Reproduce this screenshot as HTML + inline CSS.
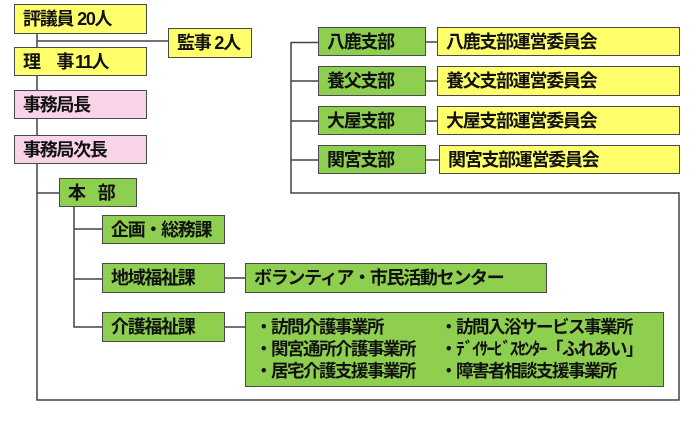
<!DOCTYPE html>
<html><head><meta charset="utf-8">
<style>
html,body{margin:0;padding:0;background:#fff;}
#c{position:relative;width:700px;height:425px;overflow:hidden;background:#fff;font-family:"Liberation Sans","Noto Sans CJK JP",sans-serif;font-weight:bold;color:#111;}
.b{position:absolute;box-sizing:border-box;border:1.5px solid #4a4a4a;display:flex;align-items:center;padding-left:8px;font-size:18px;letter-spacing:-1.3px;white-space:nowrap;line-height:1;}
.y{background:#ffff6b;}
.p{background:#f9d3e8;}
.g{background:#8fcf50;}
.sp{display:inline-block;width:4px;}
svg{position:absolute;left:0;top:0;}
.lst{position:absolute;box-sizing:border-box;border:1.5px solid #4a4a4a;background:#8fcf50;left:245px;top:312px;width:419px;height:75px;font-size:17.5px;letter-spacing:-1.5px;line-height:22px;white-space:nowrap;}
.col{position:absolute;top:3px;}
</style></head><body>
<div id="c">
<svg width="700" height="425">
<g stroke="#444" stroke-width="1.5" fill="none">
<line x1="37" y1="34" x2="37" y2="400"/>
<line x1="37" y1="41" x2="168" y2="41"/>
<line x1="37" y1="193" x2="59" y2="193"/>
<line x1="36.25" y1="400" x2="679.75" y2="400"/>
<line x1="679" y1="192.25" x2="679" y2="400"/>
<line x1="290.25" y1="193" x2="679" y2="193"/>
<line x1="291" y1="42" x2="291" y2="193"/>
<line x1="291" y1="42.5" x2="318" y2="42.5"/>
<line x1="291" y1="81" x2="318" y2="81"/>
<line x1="291" y1="121" x2="318" y2="121"/>
<line x1="291" y1="160" x2="318" y2="160"/>
<line x1="426" y1="42" x2="437" y2="42"/>
<line x1="426" y1="81" x2="437" y2="81"/>
<line x1="426" y1="121" x2="437" y2="121"/>
<line x1="426" y1="160" x2="439" y2="160"/>
<line x1="74" y1="207" x2="74" y2="327"/>
<line x1="74" y1="229" x2="102" y2="229"/>
<line x1="74" y1="279" x2="102" y2="279"/>
<line x1="73.25" y1="327" x2="102" y2="327"/>
<line x1="225" y1="278" x2="245" y2="278"/>
<line x1="225" y1="327" x2="245" y2="327"/>
</g>
</svg>

<div class="b y" style="left:14px;top:4px;width:133px;height:30px;">評議員<span class="sp"></span>20人</div>
<div class="b y" style="left:168px;top:28px;width:84px;height:30px;">監事<span class="sp"></span>2人</div>
<div class="b y" style="left:14px;top:47px;width:133px;height:29px;">理　事<span class="sp" style="width:2px"></span>11人</div>
<div class="b p" style="left:14px;top:90px;width:133px;height:29px;">事務局長</div>
<div class="b p" style="left:14px;top:135px;width:133px;height:29px;">事務局次長</div>

<div class="b g" style="left:59px;top:178px;width:78px;height:29px;">本<span style="display:inline-block;width:13px"></span>部</div>

<div class="b g" style="left:318px;top:27px;width:108px;height:29px;">八鹿支部</div>
<div class="b g" style="left:318px;top:66px;width:108px;height:30px;">養父支部</div>
<div class="b g" style="left:318px;top:106px;width:108px;height:29px;">大屋支部</div>
<div class="b g" style="left:318px;top:145px;width:108px;height:29px;">関宮支部</div>

<div class="b y" style="left:437px;top:27px;width:243px;height:29px;">八鹿支部運営委員会</div>
<div class="b y" style="left:437px;top:66px;width:243px;height:30px;">養父支部運営委員会</div>
<div class="b y" style="left:437px;top:106px;width:243px;height:29px;">大屋支部運営委員会</div>
<div class="b y" style="left:439px;top:145px;width:241px;height:29px;">関宮支部運営委員会</div>

<div class="b g" style="left:102px;top:215px;width:123px;height:29px;">企画・総務課</div>
<div class="b g" style="left:102px;top:263px;width:123px;height:30px;">地域福祉課</div>
<div class="b g" style="left:102px;top:312px;width:123px;height:30px;">介護福祉課</div>

<div class="b g" style="left:245px;top:263px;width:302px;height:30px;">ボランティア・市民活動センター</div>

<div class="lst">
<div class="col" style="left:9px;">・訪問介護事業所<br>・関宮通所介護事業所<br>・居宅介護支援事業所</div>
<div class="col" style="left:194px;">・訪問入浴サービス事業所<br>・ﾃﾞｲｻｰﾋﾞｽｾﾝﾀｰ「ふれあい」<br>・障害者相談支援事業所</div>
</div>
</div>
</body></html>
